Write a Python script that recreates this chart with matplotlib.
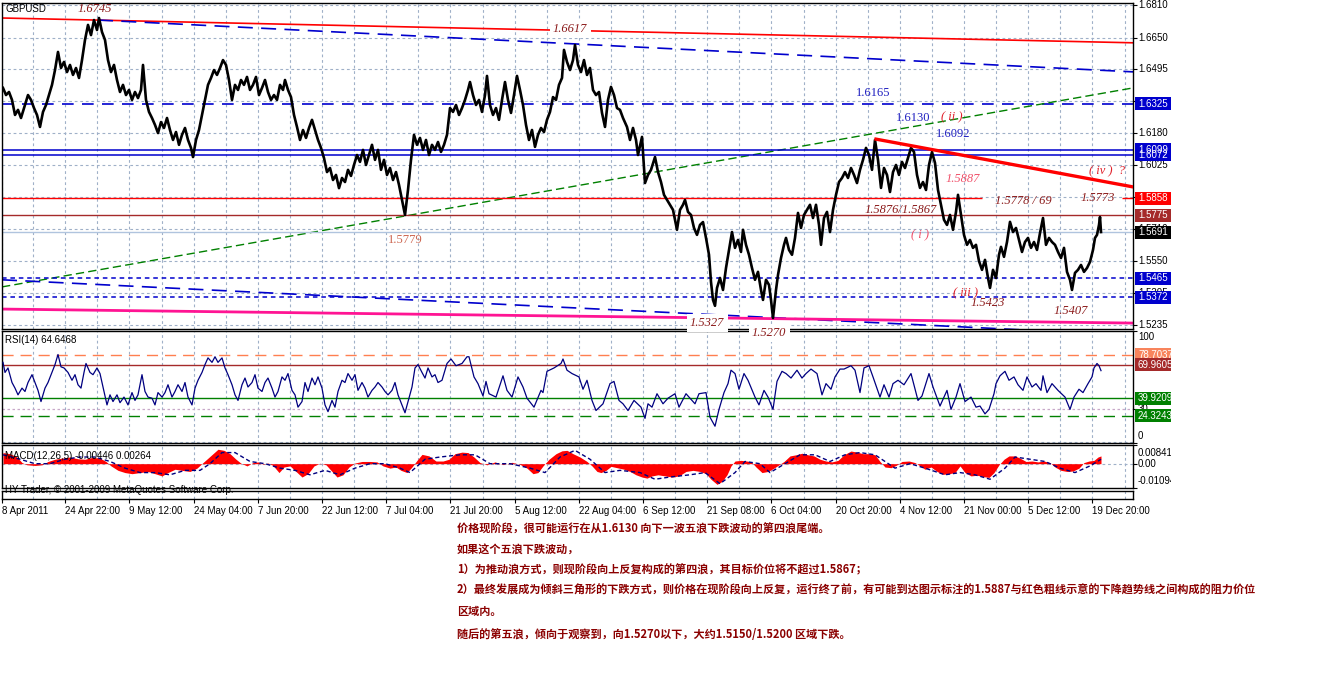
import matplotlib
matplotlib.use("Agg")
import matplotlib.pyplot as plt
from matplotlib import transforms
from matplotlib.patches import Rectangle

W, H = 1321, 692

# ---------------- data (x = H4 bar, 1 bar per pixel) ----------------
price_bars = [3, 6, 9, 12, 15, 18, 21, 25, 28, 31, 34, 37,
              40, 43, 46, 49, 52, 55, 58, 61, 64, 67, 70, 73, 76, 79, 82, 85, 88, 91, 94, 97, 99,
              102, 105, 108, 111, 114, 117, 120, 123, 126, 129, 132, 135, 138, 141, 143, 146, 149,
              152, 155, 158, 161, 164, 167, 170, 173, 176, 179, 182, 185, 188, 191, 193, 196, 199,
              202, 205, 208, 211, 214, 217, 220, 223, 226, 229, 232, 235, 238, 241, 244, 247, 250,
              253, 256, 259, 262, 265, 268, 271, 274, 277, 280, 283, 285, 288, 291, 294, 297, 300,
              303, 306, 309, 312, 315, 318, 321, 324, 327, 330, 333, 336, 339, 342, 345, 348, 351,
              354, 357, 360, 363, 366, 369, 372, 375, 378, 381, 384, 387, 390, 393, 396, 399, 402,
              405, 408, 411, 414, 417, 420, 423, 426, 429, 432, 435, 438, 441, 444, 447,
              450, 453, 456, 459, 462, 465, 468, 470, 473, 476, 479, 482, 485, 487, 490, 493, 496, 499,
              502, 505, 508, 511, 514, 517, 520, 523, 526, 529, 532, 535, 538, 541, 544, 547, 550,
              553, 556, 559, 562, 564, 567, 570, 573, 575, 578, 581, 584, 587, 590, 593, 596, 599,
              602, 605, 608, 611, 614, 617, 620, 623, 627, 630, 633, 636, 638, 642, 645, 648, 651,
              655, 658, 661, 664, 667, 670, 673, 677, 680, 683, 685, 688, 691, 694, 697, 700, 703,
              706, 709, 711, 713, 715, 717, 720, 723, 726, 729, 732, 735, 738, 741, 743, 746, 749,
              752, 755, 758, 761, 763, 766, 769, 771, 773, 776, 778, 781, 784, 786, 789, 792, 795,
              798, 801, 804, 807, 810, 813, 816, 819, 821, 824, 827, 830, 833, 836, 839, 842, 845,
              848, 851, 854, 857, 860, 863, 866, 869, 872, 875, 878, 881, 884, 887, 890, 893, 896,
              899, 902, 905, 908, 911, 914, 917, 920, 923, 926, 929, 932, 935, 938, 941, 944, 947,
              950, 953, 956, 958, 961, 964, 967, 970, 973, 976, 979, 982, 985, 988, 990, 993, 996,
              999, 1001, 1004, 1007, 1010, 1013, 1016, 1019, 1022, 1025, 1028, 1031, 1034, 1037, 1040, 1043, 1046,
              1049, 1052, 1055, 1058, 1061, 1064, 1067, 1070, 1072, 1075, 1078, 1081, 1084, 1087, 1090, 1093, 1095,
              1097, 1099, 1100, 1101]
price_vals = [1.6402, 1.6367, 1.6382, 1.6343, 1.6269, 1.6294, 1.6254, 1.6318, 1.6367, 1.6343, 1.6303, 1.6269,
              1.6210, 1.6284, 1.6318, 1.6367, 1.6417, 1.6490, 1.6579, 1.6500, 1.6530, 1.6480, 1.6515, 1.6466,
              1.6500, 1.6451, 1.6539, 1.6638, 1.6712, 1.6662, 1.6736, 1.6687, 1.6746,
              1.6677, 1.6638, 1.6539, 1.6480, 1.6515, 1.6441, 1.6382, 1.6417, 1.6367, 1.6392, 1.6343, 1.6382,
              1.6352, 1.6392, 1.6515, 1.6343, 1.6284,
              1.6254, 1.6220, 1.6180, 1.6234, 1.6205, 1.6254, 1.6195, 1.6146, 1.6185, 1.6122, 1.6171, 1.6205,
              1.6146, 1.6107, 1.6062, 1.6146, 1.6195,
              1.6269, 1.6343, 1.6417, 1.6451, 1.6490, 1.6466, 1.6500, 1.6539, 1.6515, 1.6441, 1.6343, 1.6417,
              1.6392, 1.6441, 1.6417, 1.6456, 1.6392,
              1.6417, 1.6456, 1.6367, 1.6402, 1.6441, 1.6382, 1.6343, 1.6367, 1.6343, 1.6417, 1.6392, 1.6441,
              1.6392, 1.6357, 1.6269, 1.6210, 1.6146,
              1.6195, 1.6156, 1.6205, 1.6245, 1.6195, 1.6146, 1.6107, 1.6057, 1.5988, 1.6008, 1.5949, 1.5974,
              1.5909, 1.5959, 1.5939, 1.5999, 1.5969,
              1.6023, 1.6072, 1.6038, 1.6097, 1.6023, 1.6072, 1.6122, 1.6048, 1.6097, 1.5999, 1.6048, 1.5974,
              1.6008, 1.5949, 1.5988, 1.5925, 1.5851,
              1.5777, 1.5900, 1.6048, 1.6171, 1.6122, 1.6156, 1.6097, 1.6146, 1.6072, 1.6122, 1.6097, 1.6136,
              1.6087, 1.6122, 1.6171,
              1.6303, 1.6284, 1.6318, 1.6269, 1.6303, 1.6343, 1.6392, 1.6431, 1.6367, 1.6318, 1.6343, 1.6284,
              1.6367, 1.6461, 1.6318, 1.6269, 1.6303, 1.6245,
              1.6343, 1.6431, 1.6343, 1.6279, 1.6367, 1.6461, 1.6392, 1.6318, 1.6220, 1.6146, 1.6195, 1.6112,
              1.6171, 1.6205, 1.6185, 1.6245, 1.6284,
              1.6357, 1.6343, 1.6417, 1.6451, 1.6589, 1.6530, 1.6490, 1.6539, 1.6613, 1.6515, 1.6480, 1.6539,
              1.6466, 1.6500, 1.6392, 1.6367, 1.6382,
              1.6279, 1.6210, 1.6343, 1.6407, 1.6367, 1.6303, 1.6294, 1.6254, 1.6210, 1.6146, 1.6205, 1.6146,
              1.6072, 1.6161, 1.5934, 1.5974, 1.5999,
              1.6062, 1.5988, 1.5939, 1.5876, 1.5851, 1.5827, 1.5802, 1.5704, 1.5802, 1.5827, 1.5851, 1.5792,
              1.5777, 1.5713, 1.5679, 1.5728, 1.5742,
              1.5664, 1.5581, 1.5447, 1.5359, 1.5330, 1.5418, 1.5467, 1.5408, 1.5516, 1.5605, 1.5693, 1.5615,
              1.5654, 1.5595, 1.5704, 1.5630, 1.5581,
              1.5516, 1.5458, 1.5497, 1.5408, 1.5359, 1.5458, 1.5433, 1.5359, 1.5270, 1.5408, 1.5482, 1.5565,
              1.5630, 1.5664, 1.5605, 1.5581, 1.5664,
              1.5787, 1.5713, 1.5777, 1.5802, 1.5827, 1.5762, 1.5827, 1.5728, 1.5630, 1.5762, 1.5792, 1.5693,
              1.5802, 1.5876, 1.5939, 1.5959, 1.5988,
              1.5959, 1.6008, 1.5974, 1.5934, 1.5999, 1.6048, 1.6107, 1.6072, 1.5999, 1.6146, 1.6048, 1.5910,
              1.6008, 1.5974, 1.5890, 1.5988, 1.6023,
              1.5974, 1.6038, 1.6008, 1.6057, 1.6107, 1.6087, 1.5974, 1.5910, 1.5939, 1.5900, 1.6023, 1.6087,
              1.6033, 1.5900, 1.5827, 1.5753, 1.5728,
              1.5777, 1.5704, 1.5792, 1.5876, 1.5777, 1.5679, 1.5630, 1.5654, 1.5615, 1.5630, 1.5550, 1.5507,
              1.5556, 1.5467, 1.5418, 1.5507, 1.5467,
              1.5581, 1.5620, 1.5571, 1.5644, 1.5743, 1.5693, 1.5713, 1.5654, 1.5595, 1.5644, 1.5664, 1.5615,
              1.5644, 1.5605, 1.5688, 1.5762, 1.5630,
              1.5664, 1.5644, 1.5630, 1.5595, 1.5565, 1.5615, 1.5497, 1.5458, 1.5408, 1.5492, 1.5507, 1.5531,
              1.5497, 1.5516, 1.5546, 1.5605, 1.5664,
              1.5679, 1.5728, 1.5767, 1.5693]

rsi_bars = [3, 5, 8, 12, 15, 18, 22, 25, 28, 32, 35, 38, 41, 45, 48, 52, 55, 58, 61, 64, 68, 72, 75, 78, 81,
            84, 86, 90, 93, 97, 100, 104, 107, 110, 113, 117, 120, 124, 128, 132, 135, 138, 142, 145, 148,
            152, 155, 158, 162, 165, 168, 172, 175, 178, 182, 185, 188, 192, 195, 198, 202, 205, 208, 212,
            215, 218, 222, 225, 228, 232, 235, 238, 242, 245, 248, 252, 255, 258, 262, 265, 268, 272, 275,
            278, 282, 285, 288, 292, 295, 298, 302, 305, 308, 312, 315, 318, 322, 325, 328, 332, 335, 338,
            342, 345, 348, 352, 355, 358, 362, 365, 368, 372, 375, 378, 382, 385, 388, 392, 395, 398, 402,
            405, 408, 412, 415, 418, 422, 425, 428, 432, 435, 438, 442, 447, 451, 456, 462, 467, 469, 474,
            478, 483, 486, 489, 496, 503, 507, 512, 518, 523, 527, 534, 541, 543, 547, 554, 561, 563, 567,
            572, 579, 583, 587, 592, 596, 603, 610, 614, 619, 623, 628, 634, 641, 645, 648, 652, 657, 663,
            668, 675, 679, 686, 695, 699, 706, 710, 715, 719, 724, 728, 731, 735, 739, 744, 748, 755, 759,
            764, 768, 773, 777, 782, 786, 791, 797, 802, 806, 811, 817, 822, 826, 831, 835, 840, 844, 851,
            855, 860, 864, 869, 873, 880, 884, 889, 893, 898, 904, 911, 918, 922, 929, 933, 940, 947, 951,
            956, 960, 965, 971, 976, 980, 985, 989, 994, 996, 1000, 1005, 1009, 1014, 1018, 1023, 1027,
            1032, 1036, 1041, 1043, 1047, 1052, 1058, 1065, 1070, 1074, 1079, 1083, 1088, 1092, 1094, 1097,
            1099, 1101]
rsi_vals = [72, 63, 67, 54, 49, 43, 49, 46, 54, 61, 54, 47, 37, 49, 54, 63, 70, 79, 68, 67, 63, 56, 61, 52, 49,
            63, 71, 63, 61, 67, 62, 46, 34, 43, 37, 43, 36, 41, 34, 45, 38, 43, 61, 46, 41,
            40, 34, 45, 41, 45, 52, 41, 46, 52, 46, 54, 41, 34, 49, 56, 63, 70, 76, 72,
            77, 72, 76, 67, 61, 52, 43, 38, 52, 58, 50, 54, 61, 49, 46, 54, 58, 49, 41,
            46, 59, 56, 62, 47, 43, 32, 37, 54, 46, 58, 52, 59, 49, 34, 28, 38, 32, 46,
            56, 54, 62, 56, 61, 47, 54, 49, 41, 47, 50, 54, 50, 46, 43, 47, 54, 43, 34,
            27, 37, 50, 67, 70, 63, 58, 67, 59, 61, 54, 56, 71, 75, 69, 71, 77, 77, 59,
            53, 42, 55, 44, 41, 60, 47, 41, 59, 50, 40, 32, 47, 45, 64, 67, 71, 75, 65,
            62, 59, 48, 56, 38, 29, 35, 53, 55, 38, 35, 29, 38, 32, 22, 35, 32, 44, 35,
            40, 44, 32, 44, 35, 44, 45, 23, 15, 30, 45, 53, 65, 62, 48, 62, 56, 41, 34,
            47, 41, 30, 55, 64, 62, 58, 65, 58, 62, 66, 62, 43, 53, 48, 59, 66, 66, 69,
            65, 45, 67, 69, 59, 41, 52, 41, 53, 56, 52, 62, 38, 42, 62, 50, 33, 47, 30,
            41, 53, 37, 41, 32, 33, 26, 30, 44, 53, 60, 64, 56, 59, 52, 47, 59,
            50, 53, 47, 60, 45, 53, 47, 41, 30, 41, 48, 45, 53, 59, 67, 71,
            69, 64.6]

macd_bars = [3, 10, 17, 22, 27, 35, 42, 48, 55, 62, 70, 78, 85, 92, 100, 106, 111, 118, 125, 132, 140, 148,
             155, 162, 168, 175, 182, 190, 197, 203, 208, 213, 218, 224, 230, 236, 241, 247, 253, 258, 263,
             268, 273, 279, 284, 290, 296, 302, 308, 314, 320, 326, 331, 337, 343, 349, 355, 362, 370, 377,
             383, 390, 396, 401, 407, 412, 417, 422, 429, 436, 443, 449, 455, 462, 468, 474, 480, 487, 495,
             503, 512, 520, 527, 533, 538, 543, 549, 556, 562, 567, 573, 580, 587, 592, 597, 601, 606, 611,
             617, 624, 630, 636, 642, 647, 652, 658, 665, 672, 679, 686, 693, 700, 706, 711, 717, 722, 727,
             731, 735, 741, 747, 752, 756, 762, 768, 774, 779, 784, 790, 796, 802, 808, 814, 820, 826, 832,
             838, 844, 851, 857, 863, 869, 875, 880, 885, 891, 896, 902, 909, 915, 920, 925, 931, 937, 943,
             949, 955, 960, 965, 971, 977, 983, 989, 994, 999, 1004, 1009, 1015, 1020, 1026, 1032, 1038,
             1044, 1050, 1055, 1061, 1067, 1073, 1079, 1084, 1089, 1094, 1098, 1101]
macd_vals = [0.0050, 0.0045, 0.0030, 0.0005, -0.0005, -0.0008, -0.0005, 0.0010, 0.0020, 0.0025, 0.0030,
             0.0022, 0.0020, 0.0028, 0.0025, 0.0010, -0.0010, -0.0030, -0.0040, -0.0045, -0.0040, -0.0035,
             -0.0045, -0.0055, -0.0040, -0.0025, -0.0030, -0.0035, -0.0020, 0.0005, 0.0025, 0.0045, 0.0065,
             0.0060, 0.0045, 0.0020, 0.0002, -0.0010, 0.0005, 0.0008, -0.0003, 0.0003, -0.0008, -0.0040,
             -0.0015, -0.0010, -0.0035, -0.0060, -0.0045, -0.0010, 0.0002, -0.0005, -0.0030, -0.0060,
             -0.0050, -0.0015, 0.0003, 0.0010, 0.0010, 0.0008, -0.0010, -0.0020, -0.0015, -0.0030, -0.0040,
             -0.0015, 0.0015, 0.0042, 0.0035, 0.0012, 0.0012, 0.0020, 0.0045, 0.0052, 0.0050, 0.0030,
             0.0005, -0.0005, 0.0008, -0.0004, 0.0006, -0.0003, -0.0020, -0.0045, -0.0040, -0.0010,
             0.0020, 0.0045, 0.0058, 0.0060, 0.0045, 0.0030, 0.0010, -0.0010, -0.0035, -0.0040, -0.0030,
             -0.0012, -0.0018, -0.0025, -0.0035, -0.0050, -0.0060, -0.0065, -0.0055, -0.0050, -0.0055,
             -0.0060, -0.0055, -0.0035, -0.0030, -0.0035, -0.0045, -0.0070, -0.0093, -0.0080, -0.0050,
             -0.0010, 0.0012, 0.0015, 0.0012, 0.0005, -0.0015, -0.0040, -0.0035, -0.0020, -0.0005, 0.0010,
             0.0035, 0.0040, 0.0047, 0.0040, 0.0035, 0.0020, 0.0012, 0.0008, 0.0015, 0.0040, 0.0057,
             0.0052, 0.0045, 0.0045, 0.0040, 0.0010, -0.0015, -0.0018, -0.0008, 0.0010, 0.0012, 0.0005,
             -0.0010, -0.0025, -0.0015, -0.0035, -0.0048, -0.0045, -0.0040, -0.0010, -0.0040, -0.0055,
             -0.0052, -0.0058, -0.0062, -0.0040, -0.0005, 0.0020, 0.0035, 0.0035, 0.0025, 0.0010, 0.0012,
             0.0008, 0.0012, 0.0005, -0.0015, -0.0030, -0.0035, -0.0033, -0.0020, 0.0005, 0.0012, 0.0015,
             0.0030, 0.0035]

signal_bars = [3, 20, 35, 50, 65, 80, 95, 110, 125, 140, 155, 170, 185, 200, 210, 222, 235, 250, 265, 280,
               295, 310, 325, 340, 355, 370, 385, 400, 410, 425, 440, 460, 475, 490, 510, 530, 545, 560,
               575, 590, 605, 620, 640, 655, 670, 690, 705, 720, 735, 745, 760, 770, 785, 800, 815, 830,
               845, 860, 875, 885, 895, 910, 925, 945, 960, 975, 990, 1005, 1015, 1030, 1045, 1060, 1075,
               1090, 1101]
signal_vals = [0.0040, 0.0020, 0.0000, 0.0000, 0.0020, 0.0030, 0.0030, 0.0010, -0.0020, -0.0040, -0.0040,
               -0.0050, -0.0030, -0.0030, 0.0000, 0.0050, 0.0050, 0.0010, 0.0000, -0.0020, -0.0030, -0.0050,
               -0.0030, -0.0050, -0.0020, 0.0000, 0.0000, -0.0020, -0.0040, 0.0020, 0.0030, 0.0040, 0.0040,
               0.0000, 0.0000, -0.0020, -0.0040, 0.0030, 0.0060, 0.0020, -0.0040, -0.0030, -0.0040, -0.0070,
               -0.0060, -0.0050, -0.0040, -0.0090, -0.0040, 0.0010, 0.0000, -0.0040, 0.0000, 0.0040, 0.0040,
               0.0010, 0.0040, 0.0050, 0.0040, 0.0010, -0.0020, 0.0000, -0.0020, -0.0050, -0.0040, -0.0050,
               -0.0070, -0.0020, 0.0030, 0.0020, 0.0010, -0.0020, -0.0040, -0.0010, 0.0020]

# trend lines (two end points each)
red_top_x, red_top_y = [2, 1133], [1.6746, 1.6624]
blue_top_x, blue_top_y = [98, 1133], [1.6736, 1.6481]
green_x, green_y = [2, 1133], [1.5423, 1.6402]
blue_low_x, blue_low_y = [2, 1133], [1.5458, 1.5185]
pink_x, pink_y = [2, 1133], [1.5314, 1.5245]
red_trend_x, red_trend_y = [876, 1133], [1.6150, 1.5915]

# horizontal levels
level_blue_dash = 1.6325
levels_blue = [1.6099, 1.6072]
level_red = 1.5858
level_brown = 1.5775
level_bid = 1.5691
levels_blue_dot = [1.5465, 1.5372]
rsi_levels = [78.7037, 69.9605, 39.9209, 30, 24.3243]

price_ticks = [1.6810, 1.6650, 1.6495, 1.6340, 1.6180, 1.6025, 1.5865, 1.5710, 1.5550, 1.5395, 1.5235]
# tick labels that are fully hidden behind the price flags in the reference
hidden_ticks = [1.6340, 1.5865]
time_labels = ["8 Apr 2011", "24 Apr 22:00", "9 May 12:00", "24 May 04:00", "7 Jun 20:00",
               "22 Jun 12:00", "7 Jul 04:00", "21 Jul 20:00", "5 Aug 12:00", "22 Aug 04:00",
               "6 Sep 12:00", "21 Sep 08:00", "6 Oct 04:00", "20 Oct 20:00", "4 Nov 12:00",
               "21 Nov 00:00", "5 Dec 12:00", "19 Dec 20:00"]

notes = ["价格现阶段，很可能运行在从1.6130 向下一波五浪下跌波动的第四浪尾端。",
         "如果这个五浪下跌波动，",
         "1）为推动浪方式，则现阶段向上反复构成的第四浪，其目标价位将不超过1.5867；",
         "2）最终发展成为倾斜三角形的下跌方式，则价格在现阶段向上反复，运行终了前，有可能到达图示标注的1.5887与红色粗线示意的下降趋势线之间构成的阻力价位",
         "区域内。",
         "随后的第五浪，倾向于观察到，向1.5270以下，大约1.5150/1.5200 区域下跌。"]

# ---------------- drawing ----------------
BLUE = '#0000cd'
GRID = '#9fb0c8'
DRED = '#8b1a1a'

fig = plt.figure(figsize=(W / 100, H / 100), dpi=100)


def px_axes(x0, y0, x1, y1):
    return fig.add_axes([x0 / W, 1 - y1 / H, (x1 - x0) / W, (y1 - y0) / H])


ax = px_axes(2, 3, 1133, 329)
ax_rsi = px_axes(2, 331, 1133, 443)
ax_macd = px_axes(2, 445, 1133, 488)
ax_time = px_axes(2, 491, 1133, 499)
ax_lab = px_axes(1133, 0, 1171, 500)
ax_lab.axis('off')
ax_lab.set_xlim(0, 1)
ax_lab.set_ylim(0, 1)

tick_pos = [max(2, 1 + 64.2 * i) for i in range(len(time_labels))]
grid_minor = [33.1 + 64.2 * i for i in range(18)]

for a in (ax, ax_rsi, ax_macd, ax_time):
    a.set_xlim(2, 1133)
    a.set_xticks(tick_pos)
    a.set_xticks(grid_minor, minor=True)
    a.grid(True, which='both', axis='x', color=GRID, ls=(0, (2.5, 2.5)), lw=0.8)
    a.tick_params(axis='x', which='both', bottom=False, labelbottom=False)
    a.yaxis.tick_right()
    a.tick_params(axis='y', length=3, width=0.8, labelright=False)
    for s in a.spines.values():
        s.set_linewidth(1)
        s.set_color('black')
    a.set_axisbelow(True)

# main panel
ax.set_ylim(1.52159, 1.68198)
ax.set_yticks(price_ticks)
ax.grid(True, axis='y', color=GRID, ls=(0, (2.5, 2.5)), lw=0.8)

ax.plot(red_top_x, red_top_y, color='#ff0000', lw=1.2, zorder=2)
ax.plot(blue_top_x, blue_top_y, color=BLUE, lw=1.2, ls=(0, (9, 5)), zorder=2)
ax.axhline(level_blue_dash, color=BLUE, lw=1.2, ls=(0, (7, 5)), zorder=2)
ax.plot(green_x, green_y, color='#008000', lw=1.0, ls=(0, (6, 3)), zorder=2)
for v in levels_blue:
    ax.axhline(v, color=BLUE, lw=1.1, zorder=2)
ax.hlines(level_red, 2, 982, color='#ff0000', lw=1.0, zorder=2)
ax.hlines(level_red, 1122, 1133, color='#ff0000', lw=1.0, zorder=2)
ax.axhline(level_brown, color='#a52a2a', lw=1.0, zorder=2)
ax.axhline(level_bid, color='#b0c4de', lw=1.0, zorder=2)
for v in levels_blue_dot:
    ax.axhline(v, color=BLUE, lw=1.1, ls=(0, (3, 2.5)), zorder=2)
ax.plot(blue_low_x, blue_low_y, color=BLUE, lw=1.2, ls=(0, (9, 5)), zorder=2)
ax.plot(pink_x, pink_y, color='#ff1493', lw=2.0, zorder=2)
ax.plot(price_bars, price_vals, color='black', lw=1.9, zorder=3)
ax.plot(red_trend_x, red_trend_y, color='#ff0000', lw=2.4, zorder=4)

# RSI panel
ax_rsi.set_ylim(0, 100)
ax_rsi.set_yticks([0, 30, 100])
ax_rsi.axhline(rsi_levels[0], color='#ff7f50', lw=1.0, ls=(0, (8, 5)))
ax_rsi.axhline(rsi_levels[1], color='#a52a2a', lw=1.0)
ax_rsi.axhline(rsi_levels[2], color='#008000', lw=1.0)
ax_rsi.axhline(rsi_levels[3], color='#c8a8c8', lw=0.9, ls=(0, (2, 2)))
ax_rsi.axhline(rsi_levels[4], color='#008000', lw=1.0, ls=(0, (8, 5)))
ax_rsi.axhline(0.8, color=GRID, lw=0.8, ls=(0, (2.5, 2.5)))
ax_rsi.plot(rsi_bars, rsi_vals, color='#000080', lw=0.9, zorder=3)

# MACD panel
ax_macd.set_ylim(-0.01094, 0.00841)
ax_macd.set_yticks([0.00841, 0.0, -0.01094])
ax_macd.axhline(0, color=GRID, lw=0.8, ls=(0, (2.5, 2.5)))
ax_macd.fill_between(macd_bars, 0, macd_vals, color='#ff0000', lw=0, zorder=2)
ax_macd.plot(signal_bars, signal_vals, color='#000080', lw=1.0, ls=(0, (3, 2)), zorder=3)

# time axis
ax_time.set_yticks([])
ax_time.tick_params(axis='x', which='major', bottom=True, labelbottom=True, length=3,
                    width=0.8, pad=2, labelsize=7)
ax_time.set_xticklabels(time_labels, ha='left', family='Liberation Sans')

# ---------------- right side labels ----------------
def blend(a):
    return transforms.blended_transform_factory(fig.transFigure, a.transData)


def row_val(a, row):
    return a.transData.inverted().transform((0, H - row))[1]


def rtext(a, v, s, color='black', z=2):
    ax_lab.text(1138 / W, v, s, transform=blend(a), fontsize=7, family='Liberation Sans',
                va='center', ha='left', color=color, clip_on=True, zorder=z)


def flag(a, v, s, fc):
    lo, hi = a.get_ylim()
    h = 13 * (hi - lo) / a.bbox.height
    ax_lab.add_patch(Rectangle((1135 / W, v - h / 2), 40 / W, h, transform=blend(a),
                               fc=fc, ec='none', clip_on=True, zorder=3))
    rtext(a, v, s, color='white', z=4)


for v in price_ticks:
    if v not in hidden_ticks:
        rtext(ax, v, f"{v:.4f}")
for v, fc in [(1.6325, BLUE), (1.6072, BLUE), (1.6099, BLUE), (1.5858, '#ff0000'),
              (1.5775, '#a52a2a'), (1.5691, 'black'), (1.5465, BLUE), (1.5372, BLUE)]:
    flag(ax, v, f"{v:.4f}", fc)

rtext(ax_rsi, row_val(ax_rsi, 337), "100")
rtext(ax_rsi, 30, "30")
rtext(ax_rsi, row_val(ax_rsi, 436), "0")
for v, fc in zip([rsi_levels[0], rsi_levels[1], rsi_levels[2], rsi_levels[4]],
                 ['#f8845c', '#a52a2a', '#008000', '#008000']):
    flag(ax_rsi, v, f"{v:.4f}", fc)

rtext(ax_macd, row_val(ax_macd, 453), "0.00841")
rtext(ax_macd, 0, "0.00")
rtext(ax_macd, row_val(ax_macd, 481), "-0.01094")

# ---------------- chart texts ----------------
def ftext(x, y, s, **kw):
    fig.text(x / W, 1 - y / H, s, ha='left', va='center', **kw)


ftext(6, 9, "GBPUSD", fontsize=7, family='Liberation Sans', color='black')
ftext(5, 340, "RSI(14) 64.6468", fontsize=7, family='Liberation Sans', color='black')
ftext(5, 456, "MACD(12,26,5) -0.00446 0.00264", fontsize=7, family='Liberation Sans', color='black')
ftext(5, 490, "HY Trader, \u00a9 2001-2009 MetaQuotes Software Corp.", fontsize=7,
      family='Liberation Sans', color='black')

serif = dict(fontsize=9, family='Liberation Serif')
white = dict(boxstyle='square,pad=0.25', fc='white', ec='none')
for s, x, y, c, st, bg in [
        ("1.6745", 78, 9, DRED, 'italic', False),
        ("1.6617", 553, 29, DRED, 'italic', True),
        ("1.6165", 856, 93, '#1f1fc0', 'normal', False),
        ("1.6130", 896, 118, '#1f1fc0', 'normal', False),
        ("( ii )", 941, 117, '#e0202a', 'italic', False),
        ("1.6092", 936, 134, '#1f1fc0', 'normal', False),
        ("1.5887", 946, 179, '#f0506a', 'italic', False),
        ("1.5876/1.5867", 865, 210, DRED, 'italic', False),
        ("( i )", 911, 235, '#f0506a', 'italic', False),
        ("1.5778 / 69", 995, 201, DRED, 'italic', False),
        ("1.5773", 1081, 198, DRED, 'italic', False),
        ("( iv )  ?", 1089, 171, '#e0202a', 'italic', False),
        ("( iii )", 953, 293, '#e0202a', 'italic', False),
        ("1.5423", 971, 303, DRED, 'italic', False),
        ("1.5407", 1054, 311, DRED, 'italic', False),
        ("1.5779", 388, 240, '#cd6650', 'normal', False),
        ("1.5327", 690, 323, DRED, 'italic', True),
        ("1.5270", 752, 333, DRED, 'italic', True)]:
    ftext(x, y, s, color=c, style=st, bbox=white if bg else None, **serif)

cjk = ['Noto Sans CJK SC', 'DejaVu Sans']
for s, y in zip(notes, [529, 550, 570, 590, 611, 634]):
    ftext(457, y, s, fontsize=8, fontweight='bold', color='#8b0000', family=cjk)

fig.savefig("out.png", dpi=100, facecolor='white')
